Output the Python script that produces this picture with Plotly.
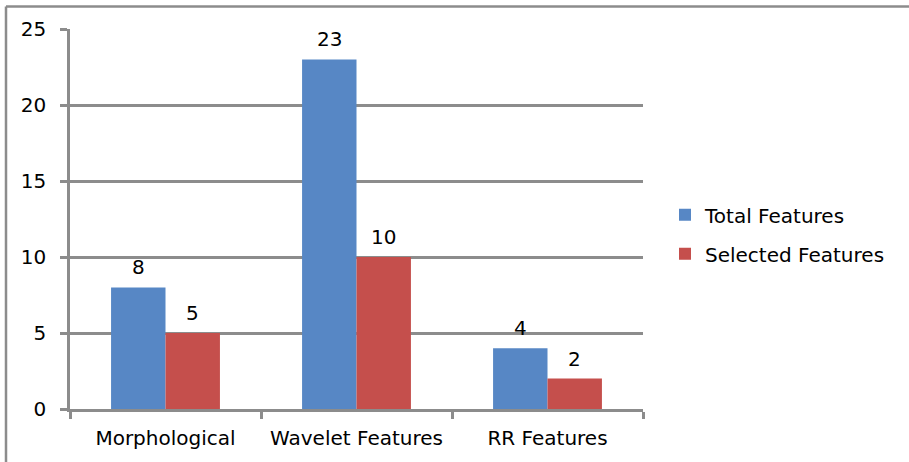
import plotly.graph_objects as go

categories = ["Morphological", "Wavelet Features", "RR Features"]
total_features = [8, 23, 4]
selected_features = [5, 10, 2]
y_ticks = [0, 5, 10, 15, 20, 25]

BLUE = "#5787c5"
RED = "#c54f4c"
GRAY = "#8c8c8c"
FONT = "DejaVu Sans"
FS = 20

fig = go.Figure()
fig.add_trace(go.Bar(name="Total Features", x=categories, y=total_features,
                     marker=dict(color=BLUE, line=dict(width=0)),
                     legendgroup="a"))
fig.add_trace(go.Bar(name="Selected Features", x=categories, y=selected_features,
                     marker=dict(color=RED, line=dict(width=0)),
                     legendgroup="b"))

# value labels above each bar
annotations = []
for series, shift in ((total_features, -27), (selected_features, 27)):
    for cat, val in zip(categories, series):
        annotations.append(dict(x=cat, y=val, text=str(val), showarrow=False,
                                xref="x", yref="y", xshift=shift, yshift=6,
                                yanchor="bottom",
                                font=dict(family=FONT, size=FS, color="#000")))

# outer chart frame (top and left edges)
px_l, px_r, px_t, px_b = 70, 643, 28.5, 409
def fx(p):
    return (p - px_l) / (px_r - px_l)
def fy(p):
    return (px_b - p) / (px_b - px_t)

shapes = [
    dict(type="line", xref="paper", yref="paper", x0=fx(6), x1=fx(950),
         y0=fy(6), y1=fy(6), line=dict(color=GRAY, width=2.5)),
    dict(type="line", xref="paper", yref="paper", x0=fx(6), x1=fx(6),
         y0=fy(6), y1=fy(500), line=dict(color=GRAY, width=2.5)),
]

fig.update_layout(
    width=909, height=462,
    margin=dict(l=70, r=909 - 643, t=28.5, b=462 - 409, pad=0),
    paper_bgcolor="white", plot_bgcolor="white",
    barmode="group", bargap=0.43, bargroupgap=0,
    font=dict(family=FONT, size=FS, color="#000"),
    annotations=annotations, shapes=shapes,
    legend=dict(x=fx(665), y=fy(195), xanchor="left", yanchor="top",
                traceorder="grouped", tracegroupgap=10,
                font=dict(family=FONT, size=FS, color="#000"),
                itemwidth=30, bgcolor="rgba(0,0,0,0)"),
    xaxis=dict(showline=True, linecolor=GRAY, linewidth=2.5,
               ticks="outside", tickson="boundaries", ticklen=7,
               tickcolor=GRAY, tickwidth=2.5, showgrid=False,
               ticklabelstandoff=9,
               tickfont=dict(family=FONT, size=FS, color="#000")),
    yaxis=dict(range=[0, 25], tickvals=y_ticks, showline=True,
               linecolor=GRAY, linewidth=2.5, ticks="outside", ticklen=7,
               tickcolor=GRAY, tickwidth=2.5, showgrid=True,
               gridcolor=GRAY, gridwidth=2.5, zeroline=False,
               ticklabelstandoff=10,
               tickfont=dict(family=FONT, size=FS, color="#000")),
)

fig.write_html("out.html")
